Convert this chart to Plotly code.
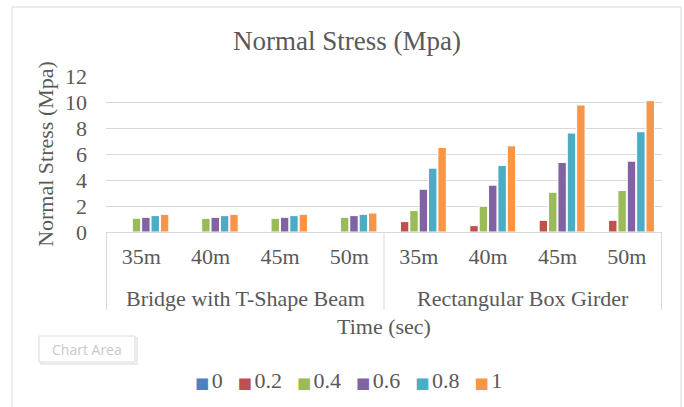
import plotly.graph_objects as go

groups = ["Bridge with T-Shape Beam"] * 4 + ["Rectangular Box Girder"] * 4
spans = ["35m", "40m", "45m", "50m"] * 2
series_names = ["0", "0.2", "0.4", "0.6", "0.8", "1"]
colors = ["#4F81BD", "#C0504D", "#9BBB59", "#8064A2", "#4BACC6", "#F79646"]

s_0 = [0, 0, 0, 0, 0, 0, 0, 0]
s_02 = [0, 0, 0, 0, 0.80, 0.49, 0.90, 0.90]
s_04 = [1.06, 1.05, 1.05, 1.13, 1.65, 1.98, 3.06, 3.19]
s_06 = [1.13, 1.13, 1.13, 1.26, 3.29, 3.60, 5.35, 5.45]
s_08 = [1.26, 1.26, 1.26, 1.36, 4.91, 5.12, 7.61, 7.71]
s_1 = [1.36, 1.36, 1.36, 1.46, 6.50, 6.63, 9.77, 10.10]
series_values = [s_0, s_02, s_04, s_06, s_08, s_1]

W, H = 684, 407
ml, mr, mt, mb = 106, 22, 76, 175
FONT = "Liberation Serif, Times New Roman, serif"
TXT = "#595959"
GRID = "#D9D9D9"

x_keys = [g + " | " + s for g, s in zip(groups, spans)]

fig = go.Figure()
for name, vals, col in zip(series_names, series_values, colors):
    fig.add_trace(go.Bar(
        x=x_keys, y=vals, name=name, showlegend=False,
        marker=dict(color=col, line=dict(color="white", width=1)),
    ))


def px_x(x):
    return (x - ml) / (W - ml - mr)


def px_y(y):
    return (H - mb - y) / (H - mt - mb)


# group labels and dividers
shapes = []
annotations = []
group_names = []
for g in groups:
    if g not in group_names:
        group_names.append(g)
bounds = [-0.5]
for g in group_names:
    idx = [i for i, gg in enumerate(groups) if gg == g]
    annotations.append(dict(text=g, xref="x", yref="paper", x=(idx[0] + idx[-1]) / 2, y=px_y(298),
                            showarrow=False, xanchor="center", yanchor="middle",
                            font=dict(family=FONT, size=22, color=TXT)))
    bounds.append(idx[-1] + 0.5)
for b in bounds:
    shapes.append(dict(type="line", xref="x", yref="paper", x0=b, x1=b, y0=0, y1=px_y(310),
                       line=dict(color=GRID, width=1)))

# outer chart border and "Chart Area" tooltip
shapes.append(dict(type="rect", xref="paper", yref="paper",
                   x0=px_x(12), x1=px_x(681), y0=px_y(412), y1=px_y(7),
                   line=dict(color=GRID, width=1), fillcolor="rgba(0,0,0,0)", layer="below"))
shapes.append(dict(type="rect", xref="paper", yref="paper",
                   x0=px_x(41), x1=px_x(137), y0=px_y(364), y1=px_y(338),
                   line=dict(color="#EBEBEB", width=2), fillcolor="rgba(0,0,0,0)"))
shapes.append(dict(type="rect", xref="paper", yref="paper",
                   x0=px_x(39), x1=px_x(135), y0=px_y(362), y1=px_y(336),
                   line=dict(color="#D9D9D9", width=1), fillcolor="white"))
annotations.append(dict(text="Chart Area", xref="paper", yref="paper", x=px_x(87), y=px_y(349),
                        showarrow=False, xanchor="center", yanchor="middle",
                        font=dict(family="Open Sans", size=14, color="#C8C8C8")))

# legend row (text)
legend_parts = []
for name, col in zip(series_names, colors):
    legend_parts.append(f'<span style="color:{col};font-size:15px;font-family:DejaVu Sans">■</span>'
                        f'<span style="font-size:10px"> </span>{name}')
legend_text = "<span style='font-size:20px'>   </span>".join(legend_parts)
annotations.append(dict(text=legend_text, xref="paper", yref="paper", x=px_x(348.5), y=px_y(380),
                        showarrow=False, xanchor="center", yanchor="middle",
                        font=dict(family=FONT, size=22, color=TXT)))

fig.update_layout(
    width=W, height=H,
    margin=dict(l=ml, r=mr, t=mt, b=mb),
    paper_bgcolor="white", plot_bgcolor="white",
    barmode="group", bargap=0.19, bargroupgap=0.1,
    font=dict(family=FONT, size=22, color=TXT),
    title=dict(text="Normal Stress (Mpa)", x=347 / W, xref="container", xanchor="center",
               y=1 - 41 / H, yref="container", yanchor="middle",
               font=dict(family=FONT, size=27, color=TXT)),
    showlegend=False,
    xaxis=dict(type="category", showgrid=False, showline=True, linecolor=GRID,
               tickvals=x_keys, ticktext=spans, ticks="", ticklabelstandoff=5,
               tickfont=dict(family=FONT, size=22, color=TXT),
               title=dict(text="Time (sec)", font=dict(family=FONT, size=22, color=TXT), standoff=50)),
    yaxis=dict(range=[0, 12], dtick=2, showgrid=True, gridcolor=GRID, gridwidth=1,
               zeroline=False, showline=False, ticks="", ticklabelstandoff=18,
               tickfont=dict(family=FONT, size=22, color=TXT),
               title=dict(text="Normal Stress (Mpa)", font=dict(family=FONT, size=22, color=TXT), standoff=5)),
    shapes=shapes,
    annotations=annotations,
)

fig.write_html("out.html")
